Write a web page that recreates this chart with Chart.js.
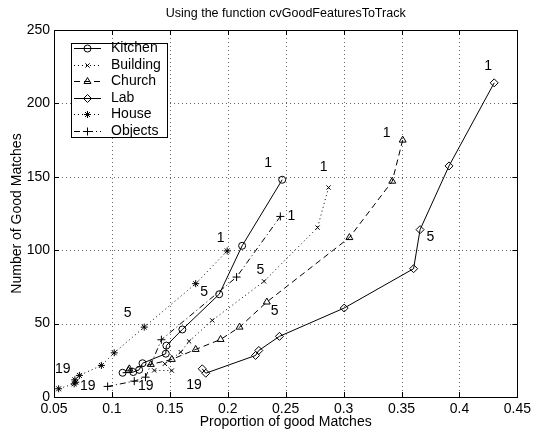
<!DOCTYPE html>
<html>
<head>
<meta charset="utf-8">
<script src="https://cdn.jsdelivr.net/npm/chart.js@4.4.0/dist/chart.umd.min.js"></script>
<style>
body { margin: 0; background: #fff; }
</style>
</head>
<body>
<canvas id="myChart" width="535" height="437"></canvas>
<script>
// donnees
var kitchenX = [0.247, 0.2124, 0.1926, 0.1608, 0.147, 0.1465, 0.1264, 0.1235, 0.1184, 0.1092];
var kitchenY = [148, 103, 70, 46, 35, 29.5, 23, 18.5, 17, 16.5];

var buildingX = [0.287, 0.2775, 0.2313, 0.1866, 0.1666, 0.1594, 0.1457, 0.1517, 0.1365];
var buildingY = [142.7, 115.4, 78.8, 52.2, 37.9, 30.6, 22.6, 18, 18.1];

var churchX = [0.351, 0.342, 0.305, 0.2337, 0.2102, 0.1938, 0.1723, 0.1517, 0.1336, 0.115, 0.1143];
var churchY = [175, 147, 108.6, 64.7, 47.6, 39.2, 32.4, 25.6, 22.2, 19.2, 18];

var labX = [0.43, 0.391, 0.366, 0.3604, 0.3005, 0.2446, 0.2268, 0.224, 0.181, 0.178];
var labY = [214, 157.4, 114, 87.4, 60.6, 41.3, 31.7, 28.3, 16.2, 19.2];

var houseX = [0.1995, 0.1723, 0.1279, 0.102, 0.0909, 0.0719, 0.068, 0.0688, 0.0674, 0.054];
var houseY = [99.5, 77.2, 47.6, 30.1, 21.5, 14.7, 11.7, 10.1, 9, 5.6];

var objectsX = [0.2454, 0.2076, 0.1427, 0.129, 0.1193, 0.0963];
var objectsY = [123, 81.7, 39, 13.5, 10.8, 7.2];

// etiquettes 1 / 5 / 19 posees sur le graphique
var noteText = ['1', '1', '1', '1', '1', '1', '5', '5', '5', '5', '5', '19', '19', '19', '19'];
var noteX = [0.2348, 0.1938, 0.2549, 0.2827, 0.3371, 0.4247, 0.1135, 0.1797, 0.2282, 0.2405, 0.375, 0.0576, 0.0791, 0.1293, 0.1709];
var noteY = [159.1, 107.9, 123.1, 156.8, 179.5, 225.4, 56.8, 71.3, 86.3, 58.3, 109, 19.2, 7.2, 7.2, 7.8];

var xTickLabels = ['0.05', '0.1', '0.15', '0.2', '0.25', '0.3', '0.35', '0.4', '0.45'];
var yTickLabels = ['0', '50', '100', '150', '200', '250'];

var FONT = "'Liberation Sans', Arial, Helvetica, sans-serif";

function points(xs, ys) {
    return xs.map(function(x, i) { return { x: x, y: ys[i] }; });
}

function serie(label, xs, ys, style, radius, dash) {
    return {
        label: label,
        data: points(xs, ys),
        showLine: true,
        borderColor: '#000',
        borderWidth: 1,
        borderDash: dash,
        backgroundColor: 'rgba(0,0,0,0)',
        pointStyle: style,
        pointRadius: radius,
        pointBorderColor: '#000',
        pointBackgroundColor: 'rgba(0,0,0,0)',
        pointBorderWidth: 1,
        tension: 0
    };
}

// grille pointillee
var grille = {
    id: 'grille',
    beforeDatasetsDraw: function(chart) {
        var ctx = chart.ctx;
        var a = chart.chartArea;
        var sx = chart.scales.x, sy = chart.scales.y;
        ctx.save();
        ctx.strokeStyle = '#666';
        ctx.lineWidth = 1;
        ctx.setLineDash([1, 3]);
        ctx.beginPath();
        sx.ticks.forEach(function(t) {
            var px = Math.round(sx.getPixelForValue(t.value)) + 0.5;
            ctx.moveTo(px, a.top); ctx.lineTo(px, a.bottom);
        });
        sy.ticks.forEach(function(t) {
            var py = Math.round(sy.getPixelForValue(t.value)) + 0.5;
            ctx.moveTo(a.left, py); ctx.lineTo(a.right, py);
        });
        ctx.stroke();
        ctx.restore();
    }
};

// cadre, petits traits, titre, legende et etiquettes
var decor = {
    id: 'decor',
    afterDraw: function(chart) {
        var ctx = chart.ctx;
        var a = chart.chartArea;
        var sx = chart.scales.x, sy = chart.scales.y;
        ctx.save();
        ctx.strokeStyle = '#000';
        ctx.lineWidth = 1;
        ctx.setLineDash([]);
        ctx.strokeRect(Math.round(a.left) + 0.5, Math.round(a.top) + 0.5, Math.round(a.right - a.left), Math.round(a.bottom - a.top));

        ctx.beginPath();
        sx.ticks.forEach(function(t) {
            var px = Math.round(sx.getPixelForValue(t.value)) + 0.5;
            ctx.moveTo(px, a.bottom); ctx.lineTo(px, a.bottom - 5);
            ctx.moveTo(px, a.top); ctx.lineTo(px, a.top + 5);
        });
        sy.ticks.forEach(function(t) {
            var py = Math.round(sy.getPixelForValue(t.value)) + 0.5;
            ctx.moveTo(a.left, py); ctx.lineTo(a.left + 5, py);
            ctx.moveTo(a.right, py); ctx.lineTo(a.right - 5, py);
        });
        ctx.stroke();

        // titre
        ctx.fillStyle = '#000';
        ctx.font = '12.5px ' + FONT;
        ctx.textAlign = 'center';
        ctx.textBaseline = 'middle';
        ctx.fillText('Using the function cvGoodFeaturesToTrack', (a.left + a.right) / 2, 14);

        // etiquettes
        ctx.font = '14px ' + FONT;
        noteText.forEach(function(txt, i) {
            ctx.fillText(txt, sx.getPixelForValue(noteX[i]), sy.getPixelForValue(noteY[i]));
        });

        // legende
        var bx = 71, by = 43, bw = 96, bh = 94;
        ctx.fillStyle = '#fff';
        ctx.fillRect(bx, by, bw, bh);
        ctx.strokeRect(bx + 0.5, by + 0.5, bw, bh);
        ctx.textAlign = 'left';
        chart.data.datasets.forEach(function(ds, i) {
            var ly = Math.round(48 + i * 16.6) + 0.5;
            ctx.strokeStyle = '#000';
            ctx.setLineDash(ds.borderDash);
            ctx.beginPath();
            ctx.moveTo(74, ly); ctx.lineTo(101, ly);
            ctx.stroke();
            ctx.setLineDash([]);
            ctx.fillStyle = 'rgba(0,0,0,0)';
            Chart.helpers.drawPoint(ctx, { pointStyle: ds.pointStyle, radius: ds.pointRadius, borderWidth: 1, rotation: 0 }, 87.5, ly);
            ctx.fillStyle = '#000';
            ctx.fillText(ds.label, 111, ly);
        });
        ctx.restore();
    }
};

var ctx = document.getElementById('myChart').getContext('2d');
var myChart = new Chart(ctx, {
    type: 'scatter',
    data: {
        datasets: [
            serie('Kitchen', kitchenX, kitchenY, 'circle', 3.5, []),
            serie('Building', buildingX, buildingY, 'crossRot', 3, [1, 3]),
            serie('Church', churchX, churchY, 'triangle', 4, [6, 4]),
            serie('Lab', labX, labY, 'rectRot', 4, []),
            serie('House', houseX, houseY, 'star', 3.5, [1, 3]),
            serie('Objects', objectsX, objectsY, 'cross', 4, [6, 3, 1, 3])
        ]
    },
    options: {
        responsive: false,
        animation: false,
        layout: { padding: { top: 30, right: 15, left: 0, bottom: 0 } },
        plugins: {
            legend: { display: false },
            tooltip: { enabled: false }
        },
        scales: {
            x: {
                type: 'linear',
                min: 0.05,
                max: 0.45,
                afterFit: function(s) { s.height = 40; },
                ticks: {
                    stepSize: 0.05,
                    color: '#000',
                    padding: 4,
                    maxRotation: 0,
                    font: { family: FONT, size: 14 },
                    callback: function(v, i) { return xTickLabels[i]; }
                },
                grid: { display: false, drawTicks: false },
                border: { display: false },
                title: {
                    display: true,
                    text: 'Proportion of good Matches',
                    color: '#000',
                    font: { family: FONT, size: 14 },
                    padding: { top: 0, bottom: 6 }
                }
            },
            y: {
                type: 'linear',
                min: 0,
                max: 250,
                afterFit: function(s) { s.width = 54; },
                ticks: {
                    stepSize: 50,
                    color: '#000',
                    padding: 4,
                    font: { family: FONT, size: 14 },
                    callback: function(v, i) { return yTickLabels[i]; }
                },
                grid: { display: false, drawTicks: false },
                border: { display: false },
                title: {
                    display: true,
                    text: 'Number of Good Matches',
                    color: '#000',
                    font: { family: FONT, size: 14 },
                    padding: { top: 9, bottom: 0 }
                }
            }
        }
    },
    plugins: [grille, decor]
});
</script>
</body>
</html>
